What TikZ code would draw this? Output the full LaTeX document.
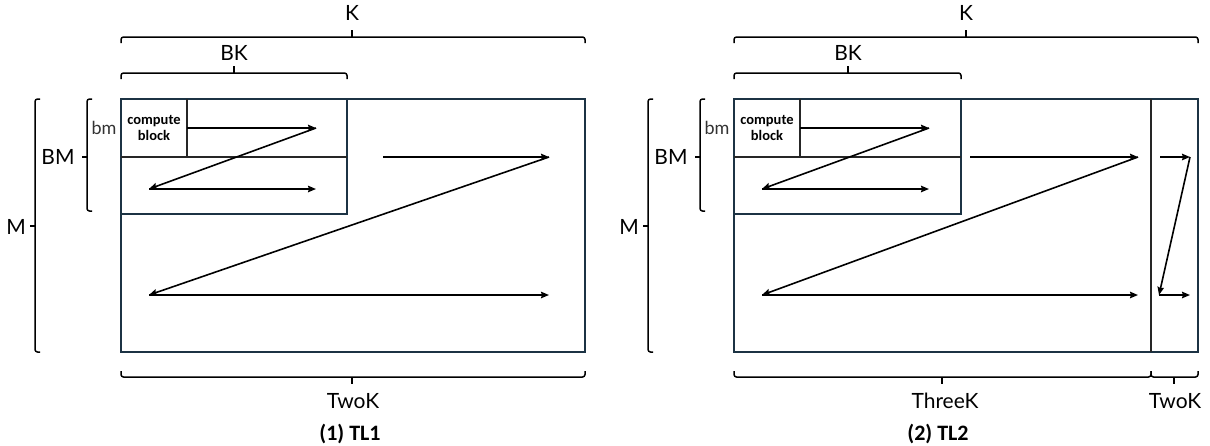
\documentclass[tikz,border=0pt]{standalone}
\usepackage{fontspec}
\setmainfont{Lato}
\newfontfamily\capfont{Carlito}
\usetikzlibrary{arrows.meta}
\definecolor{rectc}{HTML}{1C3344}
\tikzset{
  blockline/.style={draw=rectc, line width=2pt},
  innerline/.style={draw=black!85, line width=1.5pt},
  flow/.style={draw=black, line width=1.6pt, -{Stealth[length=8pt,width=6.5pt,inset=1pt]}},
  bracel/.style={draw=black, line width=1.5pt, rounded corners=2.5pt},
  tickl/.style={draw=black, line width=2.4pt},
  lab/.style={font=\fontsize{21}{23}\selectfont, inner sep=0pt},
  smalllab/.style={font=\fontsize{18}{20}\selectfont, text=black!80, inner sep=0pt},
  cblab/.style={font=\capfont\bfseries\fontsize{14.5}{16}\selectfont, align=center, inner sep=0pt},
  caplab/.style={font=\capfont\bfseries\fontsize{22}{24}\selectfont, inner sep=0pt},
}
\begin{document}
\begin{tikzpicture}[x=1pt,y=-1pt]
\useasboundingbox (0,0) rectangle (1210,445);

% ================= Panel 1 =================
\draw[blockline] (121,99) rectangle (585,352);
\draw[blockline] (121,99) rectangle (347,214);
\draw[innerline] (121,157) -- (347,157);
\draw[innerline] (187,99) -- (187,157);
\node[cblab] (cb1) at (154,128) {compute\\block};

\coordinate (a1s) at (187,128);
\coordinate (a1e) at (316,128);
\coordinate (a2e) at (149,189);
\coordinate (a3e) at (316,189);
\draw[flow] (a1s) -- (a1e);
\draw[flow] (a1e) -- (a2e);
\draw[flow] (a2e) -- (a3e);
\coordinate (b1s) at (383,157);
\coordinate (b1e) at (549,157);
\coordinate (b2e) at (149,295);
\coordinate (b3e) at (549,295);
\draw[flow] (b1s) -- (b1e);
\draw[flow] (b1e) -- (b2e);
\draw[flow] (b2e) -- (b3e);

\draw[bracel] (121,43) -- (121,37) -- (585,37) -- (585,43);
\draw[tickl] (352,37) -- (352,30);
\node[lab] (k1) at (352,13) {K};
\draw[bracel] (121,79) -- (121,73) -- (347,73) -- (347,79);
\draw[tickl] (234,73) -- (234,66);
\node[lab] (bk1) at (234,53) {BK};
\draw[bracel] (40,99) -- (35,99) -- (35,352) -- (40,352);
\draw[tickl] (35,226) -- (30,226);
\node[lab] (m1) at (16,227) {M};
\draw[bracel] (92,99) -- (87,99) -- (87,211) -- (92,211);
\draw[tickl] (87,157) -- (82,157);
\node[lab] (bm1) at (58,157) {BM};
\node[smalllab] (sbm1) at (104,128) {bm};
\draw[bracel] (121,371) -- (121,377) -- (585,377) -- (585,371);
\draw[tickl] (352,377) -- (352,384);
\node[lab] (tk1) at (353,401) {TwoK};
\node[caplab] (cap1) at (350,434) {(1) TL1};

% ================= Panel 2 =================
\draw[blockline] (734,99) rectangle (1198,352);
\draw[blockline] (734,99) rectangle (961,214);
\draw[innerline] (1151,99) -- (1151,352);
\draw[innerline] (734,157) -- (961,157);
\draw[innerline] (800,99) -- (800,157);
\node[cblab] (cb2) at (767,128) {compute\\block};

\coordinate (c1s) at (800,128);
\coordinate (c1e) at (929,128);
\coordinate (c2e) at (762,189);
\coordinate (c3e) at (929,189);
\draw[flow] (c1s) -- (c1e);
\draw[flow] (c1e) -- (c2e);
\draw[flow] (c2e) -- (c3e);
\coordinate (d1s) at (970,157);
\coordinate (d1e) at (1138,157);
\coordinate (d2e) at (762,295);
\coordinate (d3e) at (1138,295);
\draw[flow] (d1s) -- (d1e);
\draw[flow] (d1e) -- (d2e);
\draw[flow] (d2e) -- (d3e);
\coordinate (e1s) at (1160,157);
\coordinate (e1e) at (1190,157);
\coordinate (e2e) at (1159,295);
\coordinate (e3e) at (1190,295);
\draw[flow] (e1s) -- (e1e);
\draw[flow] (e1e) -- (e2e);
\draw[flow] (e2e) -- (e3e);

\draw[bracel] (734,43) -- (734,37) -- (1198,37) -- (1198,43);
\draw[tickl] (966,37) -- (966,30);
\node[lab] (k2) at (966,13) {K};
\draw[bracel] (734,79) -- (734,73) -- (961,73) -- (961,79);
\draw[tickl] (848,73) -- (848,66);
\node[lab] (bk2) at (848,53) {BK};
\draw[bracel] (653,99) -- (648,99) -- (648,352) -- (653,352);
\draw[tickl] (648,226) -- (643,226);
\node[lab] (m2) at (629,227) {M};
\draw[bracel] (705,99) -- (700,99) -- (700,211) -- (705,211);
\draw[tickl] (700,157) -- (695,157);
\node[lab] (bm2) at (671,157) {BM};
\node[smalllab] (sbm2) at (717,128) {bm};
\draw[bracel] (734,371) -- (734,377) -- (1151,377) -- (1151,371);
\draw[tickl] (942,377) -- (942,384);
\node[lab] (tk3) at (945,401) {ThreeK};
\draw[bracel] (1151,371) -- (1151,377) -- (1198,377) -- (1198,371);
\draw[tickl] (1174,377) -- (1174,384);
\node[lab] (tk2) at (1175,401) {TwoK};
\node[caplab] (cap2) at (938,434) {(2) TL2};
\end{tikzpicture}
\end{document}
